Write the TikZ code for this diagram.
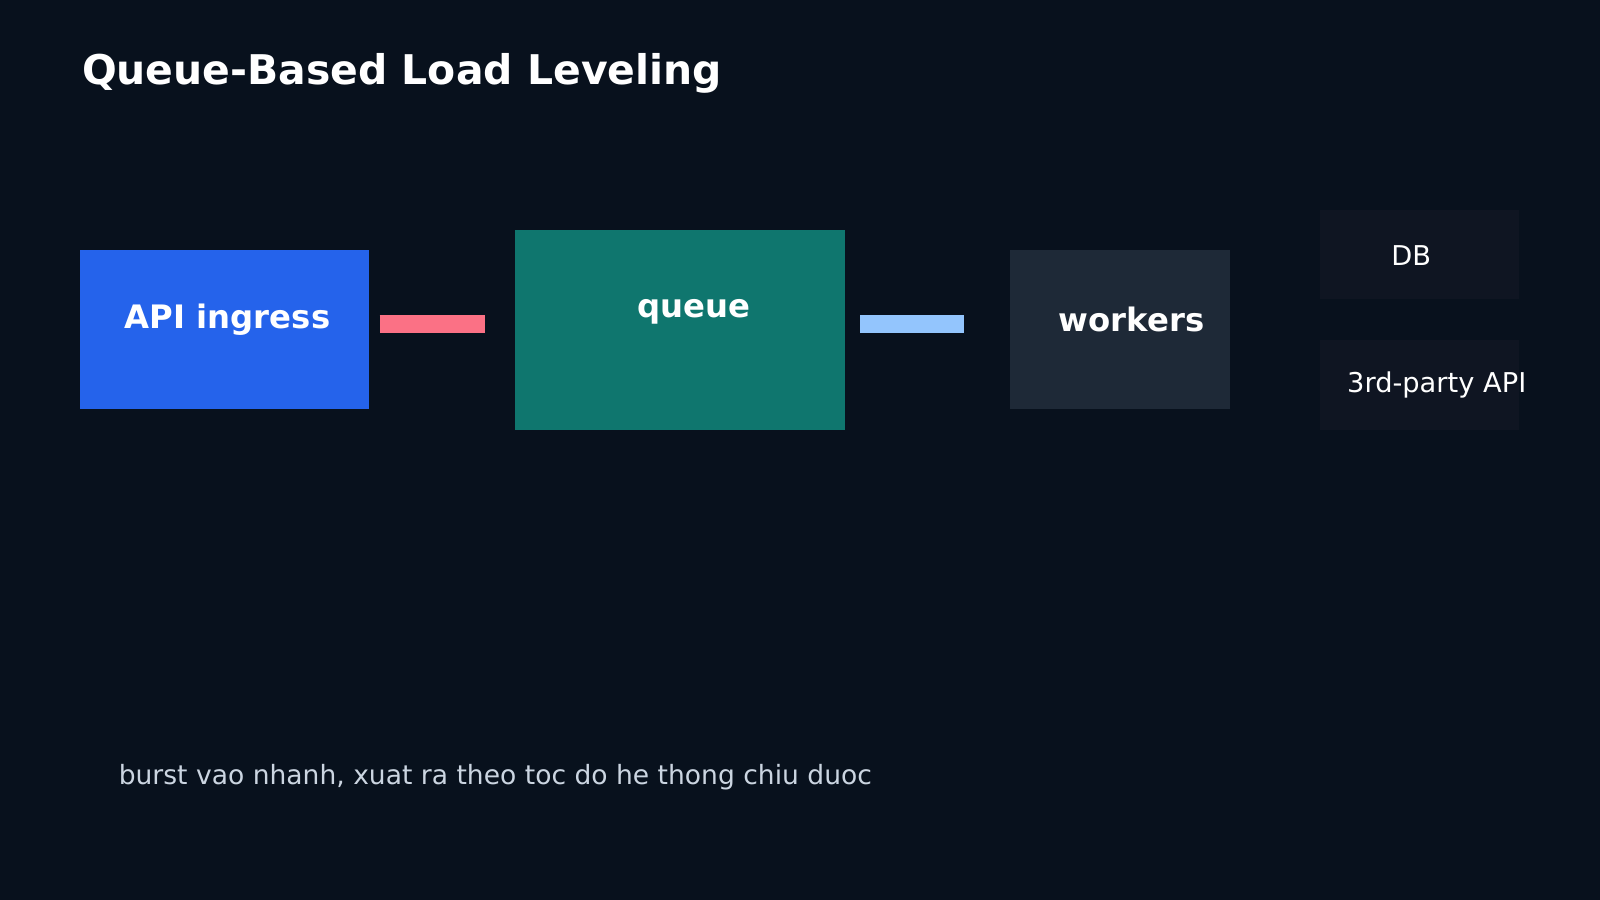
\documentclass[tikz,border=0pt]{standalone}
\usepackage{fontspec}
\setmainfont{DejaVu Sans}
\usetikzlibrary{positioning}
\definecolor{bgdark}{HTML}{08111D}
\definecolor{apiblue}{HTML}{2563EB}
\definecolor{queueteal}{HTML}{0F766E}
\definecolor{workergray}{HTML}{1E2937}
\definecolor{sinkgray}{HTML}{0F1522}
\definecolor{burstred}{HTML}{FB7185}
\definecolor{drainblue}{HTML}{93C5FD}
\definecolor{notegray}{HTML}{CBD5E1}
\begin{document}
\begin{tikzpicture}[x=0.01cm,y=-0.01cm]
			\tikzset{box/.style={rectangle,inner sep=0pt,draw=none},
				boxtext/.style={text=white,font=\fontsize{9}{10}\selectfont\bfseries},
				sinktext/.style={text=white,font=\fontsize{7.6}{9}\selectfont},
				bar/.style={line width=0.17cm}};
			\fill[bgdark](0,0)rectangle(1568,882);
			\useasboundingbox(0,0)rectangle(1568,882);
			\node[anchor=west,text=white,font=\fontsize{11.4}{13}\selectfont\bfseries](title)at(68,72){Queue-Based Load Leveling};
			\node[box,fill=apiblue,minimum width=2.84cm,minimum height=1.56cm](api)at(220,323){};
			\node[box,fill=queueteal,minimum width=3.23cm,minimum height=1.96cm](queue)at(666.5,323){};
			\node[box,fill=workergray,minimum width=2.15cm,minimum height=1.56cm](workers)at(1097.5,323){};
			\node[box,fill=sinkgray,minimum width=1.95cm,minimum height=0.87cm](db)at(1391.5,249.5){};
			\node[box,fill=sinkgray,minimum width=1.95cm,minimum height=0.88cm](ext)at(1391.5,377){};
			\node[boxtext](apitext)at(223,313){API ingress};
			\node[boxtext](queuetext)at(680,306){queue};
			\node[boxtext](workerstext)at(1109,313){workers};
			\node[sinktext](dbtext)at(1383,250){DB};
			\node[sinktext](exttext)at(1408,377){3rd-party API};
			% burst in, steady out
			\coordinate(in1)at(372,317.5);
			\coordinate(in2)at(475,317.5);
			\coordinate(out1)at(843,317.5);
			\coordinate(out2)at(945,317.5);
			\draw[bar,burstred](in1)--(in2);
			\draw[bar,drainblue](out1)--(out2);
			\node[anchor=west,text=notegray,font=\fontsize{7.4}{9}\selectfont](note)at(104,762){burst vao nhanh, xuat ra theo toc do he thong chiu duoc};
		\end{tikzpicture}
\end{document}
